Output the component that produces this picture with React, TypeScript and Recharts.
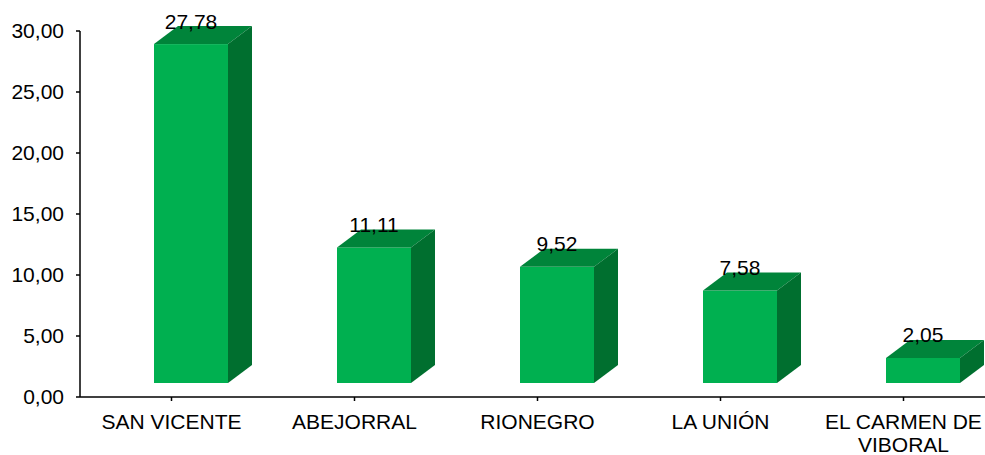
import React from 'react';
import { BarChart, Bar, XAxis, YAxis, LabelList } from 'recharts';

const municipios = ['SAN VICENTE', 'ABEJORRAL', 'RIONEGRO', 'LA UNIÓN', 'EL CARMEN DE VIBORAL'];
const porcentajes = [27.78, 11.11, 9.52, 7.58, 2.05];
const yTicks = [0, 5, 10, 15, 20, 25, 30];

const data = municipios.map((name, i) => ({ name, value: porcentajes[i] }));

const FONT = '"Liberation Sans", Arial, sans-serif';
// offsets of the pseudo 3D box
const SHIFT_X = 19;
const SHIFT_Y = -14;
const DEPTH_X = 24;
const DEPTH_Y = -18;

const fmt = (v: number) => v.toFixed(2).replace('.', ',');

const Bar3D = (props: any) => {
  const { x, y, width, height } = props;
  const fx = x + SHIFT_X;
  const fy = y + SHIFT_Y;
  const fb = fy + height;
  const top = `${fx},${fy} ${fx + DEPTH_X},${fy + DEPTH_Y} ${fx + width + DEPTH_X},${fy + DEPTH_Y} ${fx + width},${fy}`;
  const side = `${fx + width},${fy} ${fx + width + DEPTH_X},${fy + DEPTH_Y} ${fx + width + DEPTH_X},${fb + DEPTH_Y} ${fx + width},${fb}`;
  return (
    <g>
      <rect x={fx} y={fy} width={width} height={height} fill="#00B050" />
      <polygon points={top} fill="#00843A" />
      <polygon points={side} fill="#006F2F" />
    </g>
  );
};

const ValueLabel = (props: any) => {
  const { x, y, width, value } = props;
  return (
    <text
      x={x + width / 2 + SHIFT_X}
      y={y + SHIFT_Y - 23}
      textAnchor="middle"
      dominantBaseline="central"
      fontFamily={FONT}
      fontSize={21}
      fill="#000"
    >
      {fmt(value)}
    </text>
  );
};

const CategoryTick = (props: any) => {
  const { x, y, payload } = props;
  const words: string[] = payload.value.split(' ');
  const lines: string[] = [];
  let cur = '';
  words.forEach((w) => {
    const next = cur ? cur + ' ' + w : w;
    if (next.length > 13 && cur) {
      lines.push(cur);
      cur = w;
    } else {
      cur = next;
    }
  });
  if (cur) lines.push(cur);
  // y arrives already past tick + margin; baselines set directly
  return (
    <text x={x} y={y + 26} textAnchor="middle" fontFamily={FONT} fontSize={21} fill="#000">
      {lines.map((l, i) => (
        <tspan key={i} x={x} dy={i === 0 ? 0 : 23}>
          {l}
        </tspan>
      ))}
    </text>
  );
};

export default function App() {
  return (
    <div style={{ position: 'absolute', left: 0, top: 0, width: 985, height: 455, overflow: 'hidden', background: '#fff' }}>
      <BarChart width={995} height={455} data={data} margin={{ top: 31, right: 0, left: 0, bottom: 0 }}>
        <XAxis
          dataKey="name"
          height={58}
          axisLine={{ stroke: '#000', strokeWidth: 1.5 }}
          tickLine={{ stroke: '#000', strokeWidth: 1.5 }}
          tickSize={4}
          interval={0}
          tick={<CategoryTick />}
        />
        <YAxis
          width={80}
          domain={[0, 30]}
          ticks={yTicks}
          tickFormatter={fmt}
          axisLine={{ stroke: '#000', strokeWidth: 1.5 }}
          tickLine={{ stroke: '#000', strokeWidth: 1.5 }}
          tickSize={4}
          tickMargin={12}
          tick={{ fontFamily: FONT, fontSize: 21, fill: '#000' }}
        />
        <Bar dataKey="value" barSize={74} shape={<Bar3D />} isAnimationActive={false}>
          <LabelList dataKey="value" content={<ValueLabel />} />
        </Bar>
      </BarChart>
    </div>
  );
}
